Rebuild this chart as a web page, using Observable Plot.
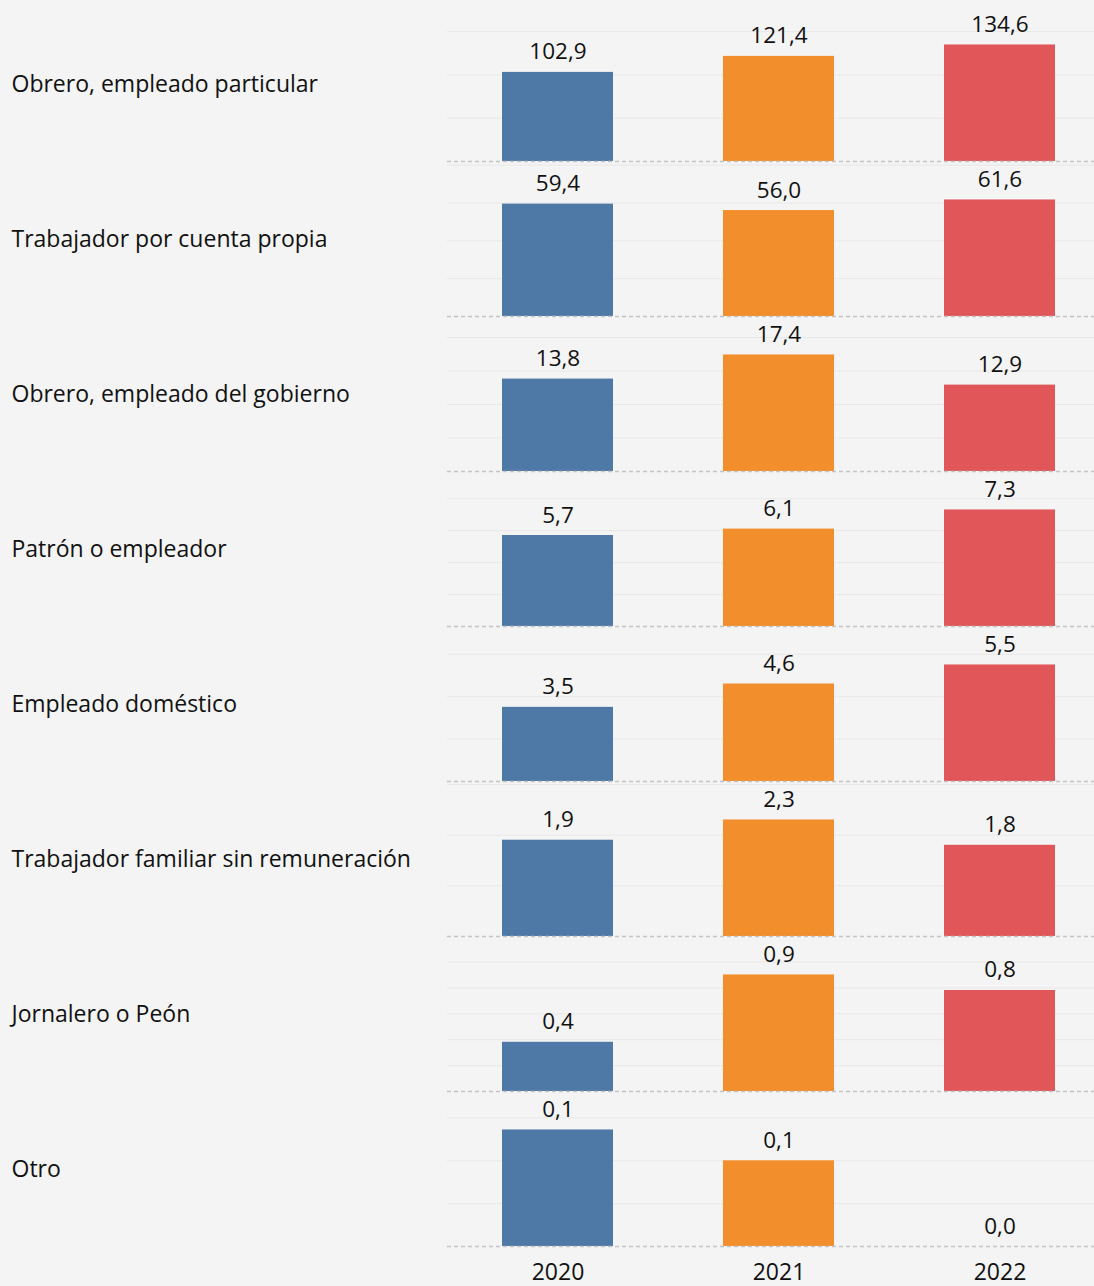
<!DOCTYPE html>
<html>
<head>
<meta charset="utf-8">
<script src="https://cdn.jsdelivr.net/npm/d3@7"></script>
<script src="https://cdn.jsdelivr.net/npm/@observablehq/plot@0.6"></script>
<style>
  html, body { margin: 0; padding: 0; background: #f4f4f4; }
  #wrap { width: 1094px; height: 1286px; overflow: hidden; }
  #wrap svg { max-width: none !important; width: 1110px !important; height: 1286px !important; }
</style>
</head>
<body>
<div id="wrap"></div>
<script>
const categories = [
  "Obrero, empleado particular",
  "Trabajador por cuenta propia",
  "Obrero, empleado del gobierno",
  "Patrón o empleador",
  "Empleado doméstico",
  "Trabajador familiar sin remuneración",
  "Jornalero o Peón",
  "Otro"
];
const years = ["2020", "2021", "2022"];
const values2020 = [102.9, 59.4, 13.8, 5.7, 3.5, 1.9, 0.38, 0.136];
const values2021 = [121.4, 56.0, 17.4, 6.1, 4.6, 2.3, 0.9, 0.1];
const values2022 = [134.6, 61.6, 12.9, 7.3, 5.5, 1.8, 0.78, 0.0];
const colors = ["#4e79a7", "#f28e2b", "#e15759"];

const series = [values2020, values2021, values2022];
const headroom = 1.33; // each row has its own y scale, tallest bar ≈ 75% of the row
const rowMax = categories.map((c, i) => d3.max(series, s => s[i]));

const data = [];
categories.forEach((c, i) => {
  years.forEach((y, j) => {
    data.push({category: c, year: y, value: series[j][i], norm: series[j][i] / rowMax[i]});
  });
});

const grid = categories.flatMap((c, i) =>
  d3.ticks(0, rowMax[i] * headroom, 4)
    .filter(t => t > 0 && t <= rowMax[i] * headroom)
    .map(t => ({category: c, y: t / rowMax[i]}))
);

const locale = d3.formatLocale({decimal: ",", thousands: ".", grouping: [3], currency: ["", ""]});
const fmt = locale.format(".1f");

const chart = Plot.plot({
  width: 1110,
  height: 1286,
  marginLeft: 447,
  marginRight: 0,
  marginTop: 2,
  marginBottom: 37,
  style: {fontFamily: "'Open Sans', sans-serif", background: "#f4f4f4", color: "#111"},
  x: {domain: years, paddingInner: 0.5, paddingOuter: 0.25, axis: null},
  y: {domain: [0, headroom], axis: null},
  fy: {domain: categories, padding: 0, axis: null},
  color: {domain: years, range: colors},
  marks: [
    Plot.ruleY(grid, {y: "y", fy: "category", stroke: "#e8e8e8", strokeWidth: 1}),
    Plot.barY(data, {x: "year", y: "norm", fy: "category", fill: "year"}),
    Plot.ruleY([0], {stroke: "#c4c4c4", strokeWidth: 1.5, strokeDasharray: "4,3"}),
    Plot.text(data, {x: "year", y: "norm", fy: "category", text: d => fmt(d.value),
      lineAnchor: "bottom", dy: -13, fontSize: 22.5, fill: "#111"}),
    Plot.text(categories, {fy: d => d, text: d => d, frameAnchor: "left", textAnchor: "start",
      dx: -436, dy: 1, fontSize: 23, fill: "#111"}),
    Plot.axisX({tickSize: 0, tickPadding: 17, fontSize: 23, label: null, fill: "#111"})
  ]
});
document.getElementById("wrap").appendChild(chart);
</script>
</body>
</html>
